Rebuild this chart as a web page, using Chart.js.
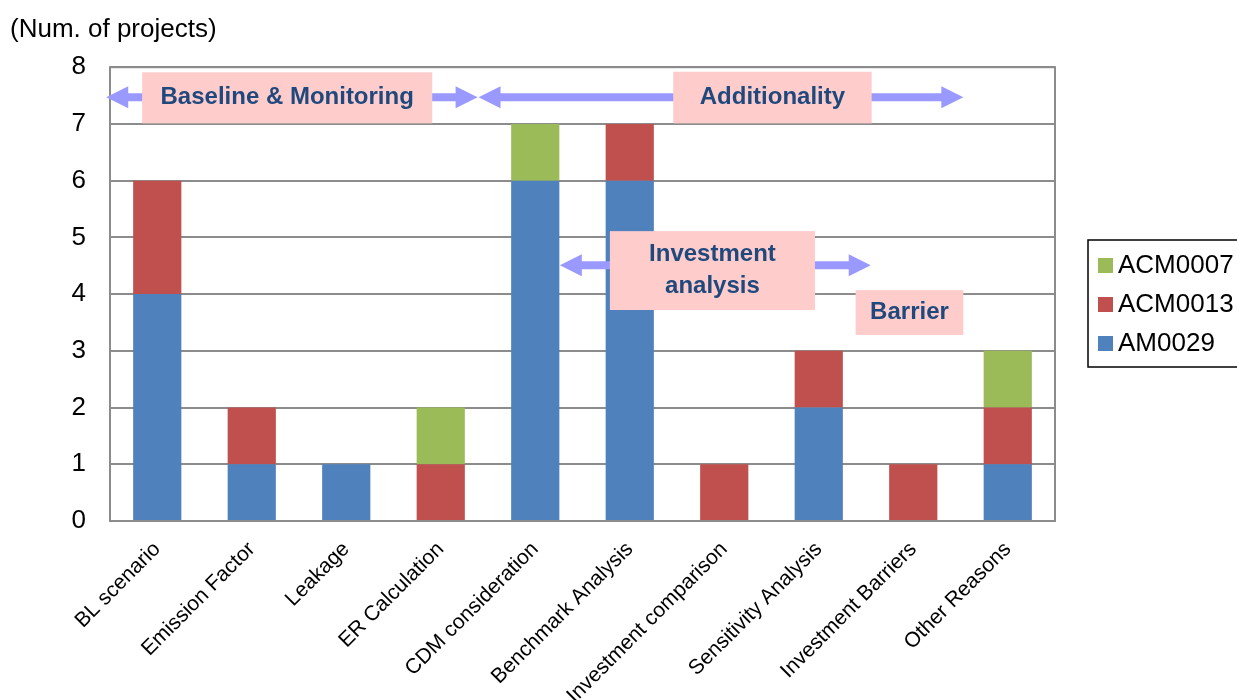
<!DOCTYPE html>
<html>
<head>
<meta charset="utf-8">
<script src="https://cdn.jsdelivr.net/npm/chart.js@4/dist/chart.umd.min.js"></script>
<style>
  body { margin: 0; background: #fff; }
  #wrap { width: 1237px; height: 700px; }
</style>
</head>
<body>
<div id="wrap"><canvas id="reasonChart" width="1237" height="700"></canvas></div>
<script>
// categories and counts per methodology
const categories = ['BL scenario', 'Emission Factor', 'Leakage', 'ER Calculation', 'CDM consideration',
  'Benchmark Analysis', 'Investment comparison', 'Sensitivity Analysis', 'Investment Barriers', 'Other Reasons'];
const am0029 = [4, 1, 1, 0, 6, 6, 0, 2, 0, 1];
const acm0013 = [2, 1, 0, 1, 0, 1, 1, 1, 1, 1];
const acm0007 = [0, 0, 0, 1, 1, 0, 0, 0, 0, 1];
const yMin = 0, yMax = 8, yStep = 1;

// group labels with arrows, in axis units (x = category index, y = count)
const groups = [
  { lines: ['Baseline & Monitoring'], box: [-0.16, 2.91, 7.91, 7.01], arrow: [-0.54, 3.39, 7.47] },
  { lines: ['Additionality'], box: [5.46, 7.56, 7.92, 7.01], arrow: [3.40, 8.53, 7.47] },
  { lines: ['Investment', 'analysis'], box: [4.79, 6.96, 5.11, 3.72], arrow: [4.26, 7.55, 4.51] },
  { lines: ['Barrier'], box: [7.39, 8.53, 4.07, 3.28], arrow: null }
];

const FONT = "'Liberation Sans', Arial, sans-serif";
const colors = { am0029: '#4F81BD', acm0013: '#C0504D', acm0007: '#9BBB59' };

function drawArrow(ctx, x1, x2, y) {
  const head = 22, half = 11, shaft = 4;
  ctx.fillStyle = '#9999FF';
  ctx.beginPath();
  ctx.moveTo(x1, y);
  ctx.lineTo(x1 + head, y - half);
  ctx.lineTo(x1 + head, y - shaft);
  ctx.lineTo(x2 - head, y - shaft);
  ctx.lineTo(x2 - head, y - half);
  ctx.lineTo(x2, y);
  ctx.lineTo(x2 - head, y + half);
  ctx.lineTo(x2 - head, y + shaft);
  ctx.lineTo(x1 + head, y + shaft);
  ctx.lineTo(x1 + head, y + half);
  ctx.closePath();
  ctx.fill();
}

// frame around plot, group annotations and a boxed legend
const extras = {
  id: 'extras',
  beforeDatasetsDraw(chart) {
    const { ctx, chartArea: a } = chart;
    ctx.save();
    ctx.strokeStyle = '#8c8c8c';
    ctx.lineWidth = 2;
    ctx.strokeRect(a.left, a.top, a.right - a.left, a.bottom - a.top);
    ctx.restore();
  },
  afterDatasetsDraw(chart) {
    const { ctx } = chart;
    const xs = chart.scales.x, ys = chart.scales.y;
    ctx.save();
    groups.forEach(g => {
      if (g.arrow) {
        drawArrow(ctx, xs.getPixelForValue(g.arrow[0]), xs.getPixelForValue(g.arrow[1]), ys.getPixelForValue(g.arrow[2]));
      }
      const l = xs.getPixelForValue(g.box[0]), r = xs.getPixelForValue(g.box[1]);
      const t = ys.getPixelForValue(g.box[2]), b = ys.getPixelForValue(g.box[3]);
      ctx.fillStyle = '#FFCCCC';
      ctx.fillRect(l, t, r - l, b - t);
      ctx.fillStyle = '#1F497D';
      ctx.font = 'bold 24px ' + FONT;
      ctx.textAlign = 'center';
      ctx.textBaseline = 'middle';
      const lh = 32;
      const cy = (t + b) / 2 - (g.lines.length - 1) * lh / 2;
      g.lines.forEach((s, i) => ctx.fillText(s, (l + r) / 2, cy + i * lh));
    });
    ctx.restore();
  },
  afterDraw(chart) {
    const { ctx, chartArea: a } = chart;
    const left = a.right + 33, top = 240, w = 170, h = 127;
    ctx.save();
    ctx.strokeStyle = '#000';
    ctx.lineWidth = 1.5;
    ctx.strokeRect(left, top, w, h);
    ctx.font = '26px ' + FONT;
    ctx.textBaseline = 'middle';
    ctx.textAlign = 'left';
    const ds = chart.data.datasets.slice().reverse();
    ds.forEach((d, i) => {
      const cy = top + 25 + i * 39;
      ctx.fillStyle = d.backgroundColor;
      ctx.fillRect(left + 10, cy - 7, 15, 15);
      ctx.fillStyle = '#000';
      ctx.fillText(d.label, left + 30, cy + 1);
    });
    ctx.restore();
  }
};

new Chart(document.getElementById('reasonChart').getContext('2d'), {
  type: 'bar',
  data: {
    labels: categories,
    datasets: [
      { label: 'AM0029', data: am0029, backgroundColor: colors.am0029 },
      { label: 'ACM0013', data: acm0013, backgroundColor: colors.acm0013 },
      { label: 'ACM0007', data: acm0007, backgroundColor: colors.acm0007 }
    ]
  },
  options: {
    responsive: false,
    animation: false,
    categoryPercentage: 1,
    barPercentage: 0.51,
    layout: { padding: { left: 10, right: 182, top: 0, bottom: 0 } },
    plugins: {
      legend: { display: false },
      tooltip: { enabled: false },
      title: {
        display: true,
        text: '(Num. of projects)',
        align: 'start',
        color: '#000',
        font: { family: FONT, size: 26, weight: 'normal' },
        padding: { top: 14, bottom: 22 }
      }
    },
    scales: {
      x: {
        stacked: true,
        grid: { display: false, drawTicks: false },
        border: { display: false },
        ticks: {
          color: '#000',
          font: { family: FONT, size: 21 },
          maxRotation: 45,
          minRotation: 45,
          autoSkip: false,
          padding: 16
        },
        afterFit(scale) { scale.height = 179; }
      },
      y: {
        stacked: true,
        min: yMin,
        max: yMax,
        grid: { color: '#8c8c8c', lineWidth: 2, drawTicks: false },
        border: { display: false },
        ticks: {
          stepSize: yStep,
          color: '#000',
          font: { family: FONT, size: 26 },
          padding: 24
        },
        afterFit(scale) { scale.width = 100; }
      }
    }
  },
  plugins: [extras]
});
</script>
</body>
</html>
